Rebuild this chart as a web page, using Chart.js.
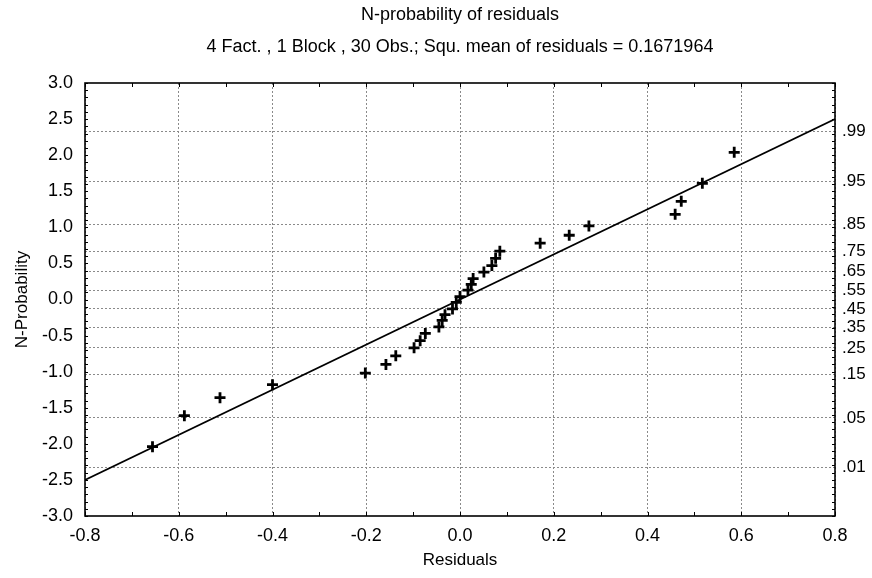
<!DOCTYPE html>
<html>
<head>
<meta charset="utf-8">
<title>N-probability of residuals</title>
<script src="https://cdn.jsdelivr.net/npm/chart.js@4.4.1/dist/chart.umd.min.js"></script>
<style>
  html, body { margin: 0; padding: 0; background: #fff; }
  #wrap { width: 872px; height: 578px; }
</style>
</head>
<body>
<div id="wrap"><canvas id="probPlot" width="872" height="578"></canvas></div>
<script>
// residuals vs. expected normal scores (30 observations)
const residuals = [
  -0.656, -0.588, -0.512, -0.400, -0.202, -0.158, -0.137, -0.098, -0.085, -0.074,
  -0.045, -0.038, -0.032, -0.016, -0.008, 0.000, 0.017, 0.024, 0.028, 0.051,
  0.068, 0.076, 0.085, 0.171, 0.233, 0.275, 0.459, 0.472, 0.517, 0.585
];
const normScores = [
  -2.04, -1.61, -1.36, -1.18, -1.02, -0.90, -0.78, -0.67, -0.57, -0.47,
  -0.38, -0.29, -0.21, -0.13, -0.04, 0.04, 0.13, 0.21, 0.29, 0.38,
  0.47, 0.57, 0.67, 0.78, 0.89, 1.02, 1.18, 1.36, 1.61, 2.04
];

// reference line
const fitX = [-0.8, 0.8];
const fitY = [-2.5, 2.5];

// probability scale on the right
const probLabels = [".01", ".05", ".15", ".25", ".35", ".45", ".55", ".65", ".75", ".85", ".95", ".99"];
const probZ = [-2.33, -1.64, -1.04, -0.67, -0.39, -0.13, 0.13, 0.39, 0.67, 1.04, 1.64, 2.33];

const titleText = "N-probability of residuals";
const subtitleText = "4 Fact. , 1 Block , 30 Obs.; Squ. mean of residuals = 0.1671964";
const xTitle = "Residuals";
const yTitle = "N-Probability";

const FONT = "'Liberation Sans', Arial, sans-serif";

const fmt1 = v => (Math.abs(v) < 1e-9 ? 0 : v).toFixed(1);

// frame, inward minor ticks and text around the plot
const framePlugin = {
  id: "frame",
  afterDatasetsDraw(chart) {
    const { ctx, chartArea: a, scales } = chart;
    ctx.save();
    ctx.strokeStyle = "#000";
    ctx.lineWidth = 1;
    ctx.beginPath();
    for (let i = -8; i <= 8; i++) {
      const px = Math.round(scales.x.getPixelForValue(i / 10)) + 0.5;
      ctx.moveTo(px, a.bottom); ctx.lineTo(px, a.bottom - 4);
      ctx.moveTo(px, a.top); ctx.lineTo(px, a.top + 4);
    }
    for (let i = -30; i <= 30; i++) {
      const py = Math.round(scales.y.getPixelForValue(i / 10)) + 0.5;
      ctx.moveTo(a.left, py); ctx.lineTo(a.left + 3, py);
      ctx.moveTo(a.right, py); ctx.lineTo(a.right - 3, py);
    }
    ctx.stroke();
    ctx.lineWidth = 1.6;
    ctx.strokeRect(a.left, a.top, a.right - a.left, a.bottom - a.top);
    ctx.restore();
  },
  afterDraw(chart) {
    const { ctx, chartArea: a } = chart;
    const cx = (a.left + a.right) / 2;
    ctx.save();
    ctx.fillStyle = "#000";
    ctx.textAlign = "center";
    ctx.textBaseline = "middle";
    ctx.font = "18px " + FONT;
    ctx.fillText(titleText, cx, 15);
    ctx.fillText(subtitleText, cx, 47);
    ctx.font = "17px " + FONT;
    ctx.fillText(xTitle, cx, 560);
    ctx.translate(22, (a.top + a.bottom) / 2);
    ctx.rotate(-Math.PI / 2);
    ctx.fillText(yTitle, 0, 0);
    ctx.restore();
  }
};

const gridDash = [2, 2];

new Chart(document.getElementById("probPlot"), {
  type: "scatter",
  data: {
    datasets: [
      {
        label: "Residuals",
        data: residuals.map((r, i) => ({ x: r, y: normScores[i] })),
        pointStyle: "cross",
        pointRadius: 5.5,
        pointBorderWidth: 2.8,
        pointBorderColor: "#000",
        yAxisID: "y"
      },
      {
        label: "Fit",
        data: fitX.map((x, i) => ({ x: x, y: fitY[i] })),
        showLine: true,
        borderColor: "#000",
        borderWidth: 1.6,
        pointRadius: 0,
        yAxisID: "y"
      }
    ]
  },
  options: {
    responsive: false,
    animation: false,
    events: [],
    layout: { padding: { top: 83, left: 0, right: 0, bottom: 0 } },
    plugins: { legend: { display: false }, tooltip: { enabled: false } },
    scales: {
      x: {
        type: "linear",
        position: "bottom",
        min: -0.8,
        max: 0.8,
        afterFit: s => { s.height = 62; },
        ticks: {
          stepSize: 0.2,
          padding: 9,
          color: "#000",
          font: { family: FONT, size: 18 },
          callback: v => fmt1(v)
        },
        grid: { color: "#8a8a8a", lineWidth: 1, drawTicks: false },
        border: { display: false, dash: gridDash }
      },
      y: {
        type: "linear",
        position: "left",
        min: -3,
        max: 3,
        afterFit: s => { s.width = 85; },
        ticks: {
          stepSize: 0.5,
          padding: 12,
          color: "#000",
          font: { family: FONT, size: 18 },
          callback: v => fmt1(v)
        },
        grid: { display: false, drawTicks: false },
        border: { display: false }
      },
      y2: {
        type: "linear",
        position: "right",
        min: -3,
        max: 3,
        afterFit: s => { s.width = 37; },
        afterBuildTicks: axis => { axis.ticks = probZ.map(v => ({ value: v })); },
        ticks: {
          autoSkip: false,
          padding: 7,
          color: "#000",
          font: { family: FONT, size: 17 },
          callback: (v, i) => probLabels[i]
        },
        grid: { color: "#8a8a8a", lineWidth: 1, drawTicks: false },
        border: { display: false, dash: gridDash }
      }
    }
  },
  plugins: [framePlugin]
});
</script>
</body>
</html>
